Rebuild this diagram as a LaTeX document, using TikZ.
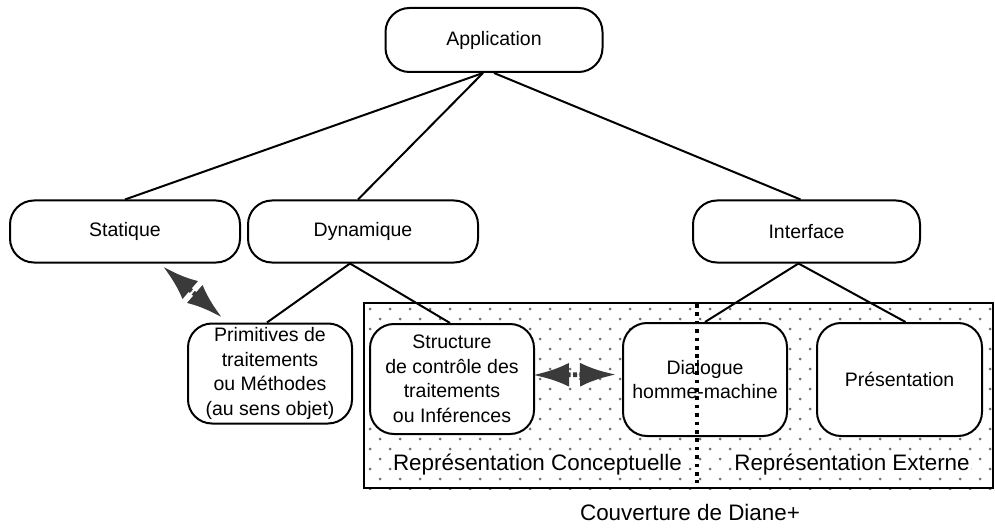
\documentclass[tikz,border=0pt]{standalone}
\usepackage{fontspec}
\setmainfont{Liberation Sans}
\usepackage{tikz}
\usetikzlibrary{positioning,arrows.meta,calc}
\definecolor{inkdark}{HTML}{000000}
\definecolor{dotgray}{HTML}{6E6E6E}
\definecolor{hatchgray}{HTML}{3A3A3A}
\tikzset{
  every node/.style={text=inkdark},
  tbox/.style={draw=inkdark, fill=white, line width=1pt, rounded corners=12pt, align=center,
    font=\fontsize{9.75}{12.25}\selectfont, inner sep=1pt},
  zone/.style={draw=inkdark, line width=1pt, minimum width=314.5pt, minimum height=92.5pt, inner sep=0pt},
  link/.style={line width=1pt, draw=inkdark},
  hatch/.style={{Latex[length=18pt,width=12pt]}-{Latex[length=18pt,width=12pt]}, line width=2.4pt,
    draw=hatchgray, fill=hatchgray, dash pattern=on 2pt off 1.2pt},
  divider/.style={line width=1.8pt, draw=inkdark, dash pattern=on 1.8pt off 2.4pt},
  lbl/.style={font=\fontsize{11.2}{13}\selectfont, fill=white, inner sep=0.5pt},
}

\begin{document}
\begin{tikzpicture}[x=0.5pt, y=-0.5pt]
  \useasboundingbox (0,0) rectangle (995,529);

  % zone couverte par Diane+ (fond pointillé)
  \node[zone, fill=white] (zone) at (678.5,395.5) {};
  \begin{scope}
    \clip (zone.south west) rectangle (zone.north east);
    \foreach \j [evaluate=\j as \off using {10*mod(\j,2)}] in {0,...,18}
      \foreach \i in {0,...,31}
        \fill[dotgray] (370+20*\i+\off, 309+10*\j) circle (0.75pt);
  \end{scope}
  \node[zone] at (zone.center) {};

  % niveau 1
  \node[tbox, minimum width=108.5pt, minimum height=32pt] (app) at (494,40) {Application};

  % niveau 2
  \node[tbox, minimum width=115pt, minimum height=31pt] (stat) at (125,231.5) {Statique};
  \node[tbox, minimum width=115pt, minimum height=31pt] (dyn) at (363,231.5) {Dynamique};
  \node[tbox, minimum width=113.5pt, minimum height=31pt] (intf) at (806.5,231.5) {Interface};

  % niveau 3
  \node[tbox, minimum width=82pt, minimum height=50pt] (prim) at (270,373.5)
    {Primitives de\\ traitements\\ ou Méthodes\\ (au sens objet)};
  \node[tbox, minimum width=82pt, minimum height=55pt] (struct) at (452,379)
    {Structure\\ de contrôle des\\ traitements\\ ou Inférences};
  \node[tbox, minimum width=82pt, minimum height=56.5pt] (dial) at (705,379.5)
    {Dialogue\\ homme-machine};
  \node[tbox, minimum width=82.5pt, minimum height=56.5pt] (pres) at (899.5,379.5) {Présentation};

  % liens de décomposition
  \draw[link] ([xshift=-5.5pt]app.south) -- (stat.north);
  \draw[link] ([xshift=-5.5pt]app.south) -- ([xshift=-2.5pt]dyn.north);
  \draw[link] (app.south) -- ([xshift=-3pt]intf.north);

  \draw[link] ([xshift=-6.5pt]dyn.south) -- ([xshift=-1.5pt]prim.north);
  \draw[link] ([xshift=-6.5pt]dyn.south) -- ([xshift=-1pt]struct.north);
  \draw[link] ([xshift=-4pt]intf.south) -- (dial.north);
  \draw[link] ([xshift=-4pt]intf.south) -- ([xshift=3pt]pres.north);

  % flèches hachurées
  \draw[hatch] ([xshift=19pt,yshift=-1.5pt]stat.south) -- ([xshift=-24pt,yshift=2.5pt]prim.north);
  \draw[hatch] ([xshift=-1pt,yshift=2pt]struct.east) -- ([xshift=-3pt,yshift=2.5pt]dial.west);

  % séparation conceptuelle / externe
  \coordinate (septop) at (697,304);
  \coordinate (sepbot) at (697,483);
  \draw[divider] (septop) -- (sepbot);

  % légendes
  \node[lbl] (conc) at (537.5,465) {Représentation Conceptuelle};
  \node[lbl] (ext) at (852,465) {Représentation Externe};
  \node[font=\fontsize{11.2}{13}\selectfont] (cov) at (690,512) {Couverture de Diane+};

\end{tikzpicture}
\end{document}
